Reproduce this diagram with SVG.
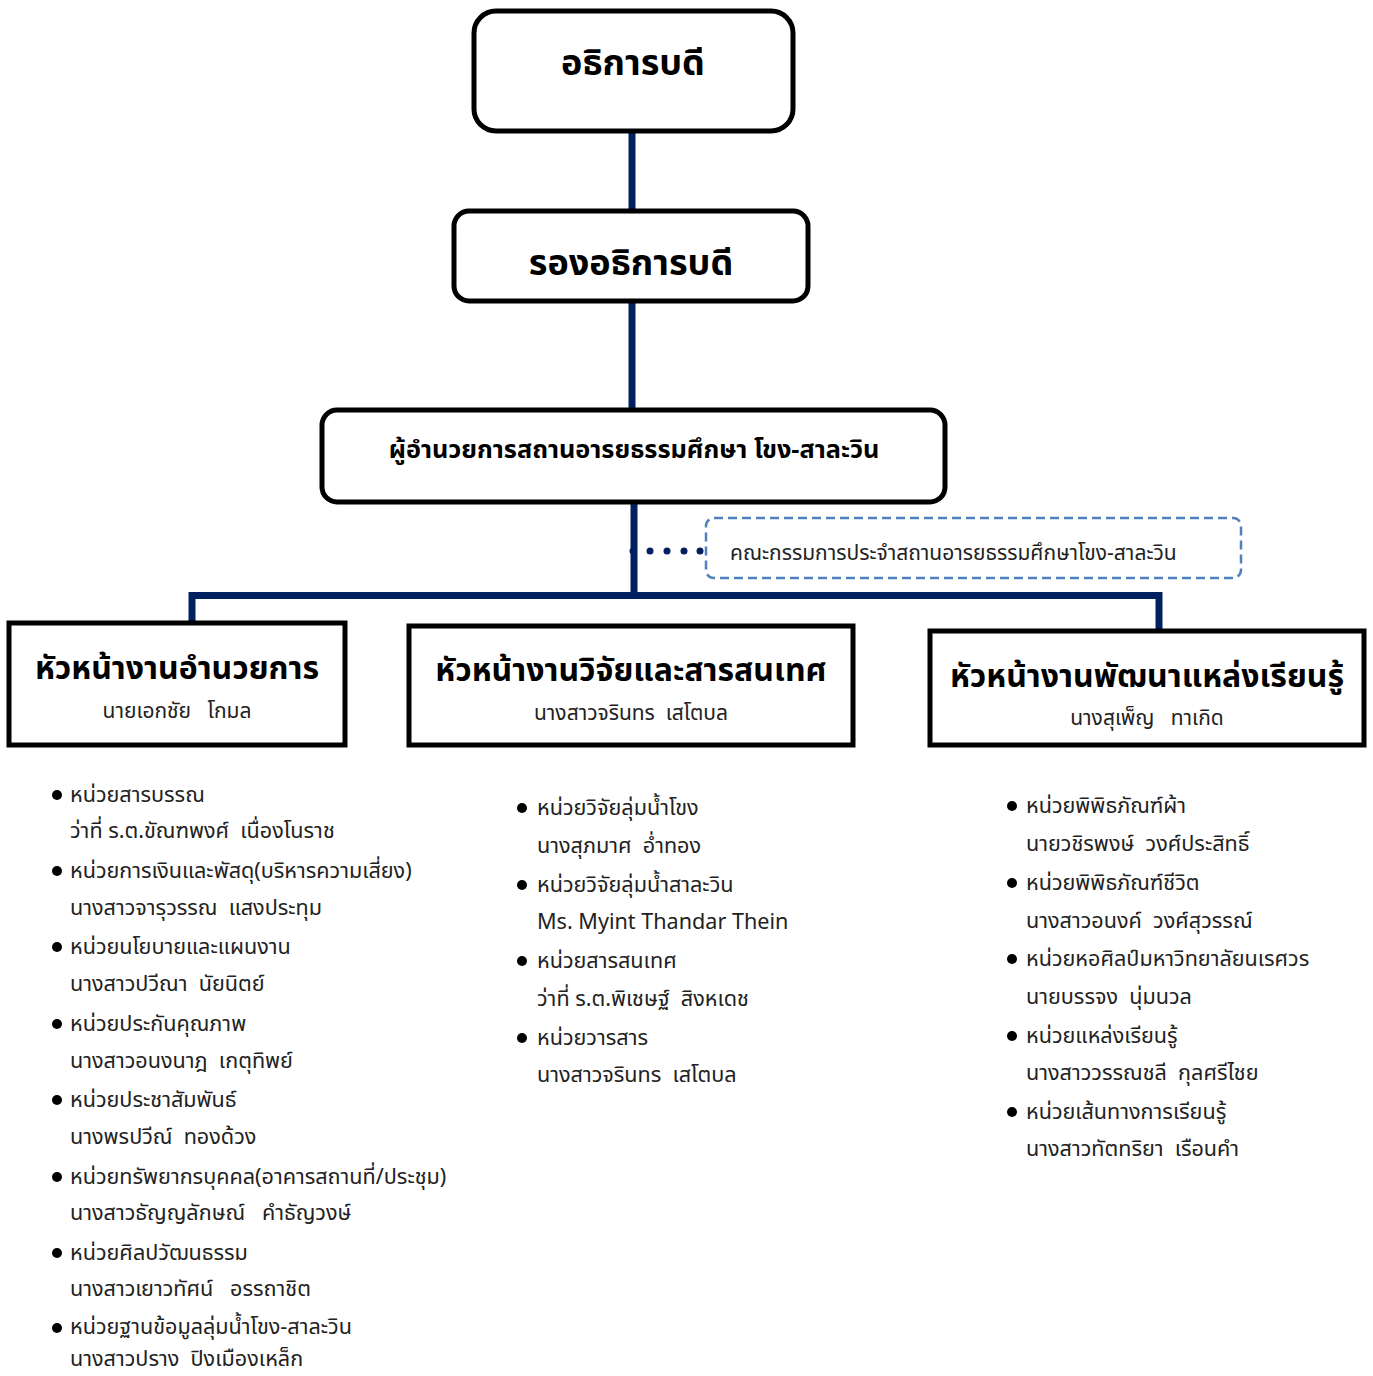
<svg xmlns="http://www.w3.org/2000/svg" width="1373" height="1376" viewBox="0 0 1373 1376" xml:space="preserve">
<style>
.box{fill:#fff;stroke:#000;stroke-width:5}
.conn{stroke:#002060;stroke-width:7;fill:none}
.t{font-family:"Noto Sans Thai","Noto Sans","DejaVu Sans",sans-serif;fill:#000;white-space:pre}
.h1{font-size:36px;font-weight:bold;text-anchor:middle}
.h2{font-size:25.3px;font-weight:bold;text-anchor:middle}
.h3{font-size:32px;font-weight:bold;text-anchor:middle}
.sub{font-size:21px;text-anchor:middle;fill:#222}
.li{font-size:21.6px;fill:#222}
.cm{font-size:21px;fill:#222}
.dash{fill:#fff;stroke:#4F81BD;stroke-width:2.5;stroke-dasharray:9 5}
.dot{fill:#002060}
.bul{fill:#000}
</style>
<rect width="1373" height="1376" fill="#fff"/>
<g id="connectors">
<line class="conn" x1="632" y1="130" x2="632" y2="212"/>
<line class="conn" x1="632" y1="300" x2="632" y2="412"/>
<line class="conn" x1="634" y1="500" x2="634" y2="596"/>
<polyline class="conn" points="192,624 192,595.5 1159,595.5 1159,630"/>
<g id="dotted">
<circle class="dot" cx="633" cy="551" r="3.5"/>
<circle class="dot" cx="650" cy="551" r="3.5"/>
<circle class="dot" cx="667" cy="551" r="3.5"/>
<circle class="dot" cx="684" cy="551" r="3.5"/>
<circle class="dot" cx="700" cy="551" r="3.5"/>
</g>
</g>
<g id="president">
<rect class="box" x="474" y="11" width="319" height="120" rx="22"/>
<text class="t h1" x="633" y="75">อธิการบดี</text>
</g>
<g id="vice-president">
<rect class="box" x="454" y="211" width="354" height="90" rx="15"/>
<text class="t h1" x="631" y="275">รองอธิการบดี</text>
</g>
<g id="director">
<rect class="box" x="322" y="410" width="623" height="92" rx="15"/>
<text class="t h2" x="634" y="458">ผู้อำนวยการสถานอารยธรรมศึกษา โขง-สาละวิน</text>
</g>
<g id="committee">
<rect class="dash" x="706" y="518" width="535" height="60" rx="8"/>
<text class="t cm" x="730" y="560">คณะกรรมการประจำสถานอารยธรรมศึกษาโขง-สาละวิน</text>
</g>
<g id="admin">
<rect class="box" x="9" y="623" width="336" height="122"/>
<text class="t h3" x="177" y="679">หัวหน้างานอำนวยการ</text>
<text class="t sub" x="177" y="718">นายเอกชัย   โกมล</text>
</g>
<g id="research">
<rect class="box" x="409" y="626" width="444" height="119"/>
<text class="t h3" x="631" y="681">หัวหน้างานวิจัยและสารสนเทศ</text>
<text class="t sub" x="631" y="720">นางสาวจรินทร  เสโตบล</text>
</g>
<g id="learning">
<rect class="box" x="930" y="631" width="434" height="114"/>
<text class="t h3" x="1147" y="687">หัวหน้างานพัฒนาแหล่งเรียนรู้</text>
<text class="t sub" x="1147" y="725">นางสุเพ็ญ   ทาเกิด</text>
</g>
<g id="admin-units">
<circle class="bul" cx="57" cy="795" r="5"/><text class="t li" x="70" y="802">หน่วยสารบรรณ</text>
<text class="t li" x="70" y="838">ว่าที่ ร.ต.ขัณฑพงศ์  เนื่องโนราช</text>
<circle class="bul" cx="57" cy="871" r="5"/><text class="t li" x="70" y="878">หน่วยการเงินและพัสดุ(บริหารความเสี่ยง)</text>
<text class="t li" x="70" y="915">นางสาวจารุวรรณ  แสงประทุม</text>
<circle class="bul" cx="57" cy="947" r="5"/><text class="t li" x="70" y="954">หน่วยนโยบายและแผนงาน</text>
<text class="t li" x="70" y="991">นางสาวปวีณา  นัยนิตย์</text>
<circle class="bul" cx="57" cy="1024" r="5"/><text class="t li" x="70" y="1031">หน่วยประกันคุณภาพ</text>
<text class="t li" x="70" y="1068">นางสาวอนงนาฎ  เกตุทิพย์</text>
<circle class="bul" cx="57" cy="1100" r="5"/><text class="t li" x="70" y="1107">หน่วยประชาสัมพันธ์</text>
<text class="t li" x="70" y="1144">นางพรปวีณ์  ทองด้วง</text>
<circle class="bul" cx="57" cy="1177" r="5"/><text class="t li" x="70" y="1184">หน่วยทรัพยากรบุคคล(อาคารสถานที่/ประชุม)</text>
<text class="t li" x="70" y="1220">นางสาวธัญญลักษณ์   คำธัญวงษ์</text>
<circle class="bul" cx="57" cy="1253" r="5"/><text class="t li" x="70" y="1260">หน่วยศิลปวัฒนธรรม</text>
<text class="t li" x="70" y="1296">นางสาวเยาวทัศน์   อรรถาชิต</text>
<circle class="bul" cx="57" cy="1328" r="5"/><text class="t li" x="70" y="1334">หน่วยฐานข้อมูลลุ่มน้ำโขง-สาละวิน</text>
<text class="t li" x="70" y="1366">นางสาวปราง  ปิงเมืองเหล็ก</text>
</g>
<g id="research-units">
<circle class="bul" cx="522" cy="808" r="5"/><text class="t li" x="537" y="815">หน่วยวิจัยลุ่มน้ำโขง</text>
<text class="t li" x="537" y="853">นางสุภมาศ  อ่ำทอง</text>
<circle class="bul" cx="522" cy="885" r="5"/><text class="t li" x="537" y="892">หน่วยวิจัยลุ่มน้ำสาละวิน</text>
<text class="t li" x="537" y="929">Ms. Myint Thandar Thein</text>
<circle class="bul" cx="522" cy="961" r="5"/><text class="t li" x="537" y="968">หน่วยสารสนเทศ</text>
<text class="t li" x="537" y="1006">ว่าที่ ร.ต.พิเชษฐ์  สิงหเดช</text>
<circle class="bul" cx="522" cy="1038" r="5"/><text class="t li" x="537" y="1045">หน่วยวารสาร</text>
<text class="t li" x="537" y="1082">นางสาวจรินทร  เสโตบล</text>
</g>
<g id="learning-units">
<circle class="bul" cx="1012" cy="806" r="5"/><text class="t li" x="1026" y="813">หน่วยพิพิธภัณฑ์ผ้า</text>
<text class="t li" x="1026" y="851">นายวชิรพงษ์  วงศ์ประสิทธิ์</text>
<circle class="bul" cx="1012" cy="883" r="5"/><text class="t li" x="1026" y="890">หน่วยพิพิธภัณฑ์ชีวิต</text>
<text class="t li" x="1026" y="928">นางสาวอนงค์  วงศ์สุวรรณ์</text>
<circle class="bul" cx="1012" cy="959" r="5"/><text class="t li" x="1026" y="966">หน่วยหอศิลป์มหาวิทยาลัยนเรศวร</text>
<text class="t li" x="1026" y="1004">นายบรรจง  นุ่มนวล</text>
<circle class="bul" cx="1012" cy="1036" r="5"/><text class="t li" x="1026" y="1043">หน่วยแหล่งเรียนรู้</text>
<text class="t li" x="1026" y="1080">นางสาววรรณชลี  กุลศรีไชย</text>
<circle class="bul" cx="1012" cy="1112" r="5"/><text class="t li" x="1026" y="1119">หน่วยเส้นทางการเรียนรู้</text>
<text class="t li" x="1026" y="1156">นางสาวทัตทริยา  เรือนคำ</text>
</g>
</svg>
